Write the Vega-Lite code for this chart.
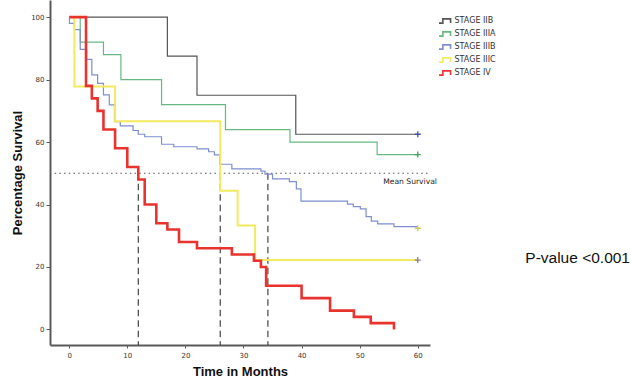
{
  "$schema": "https://vega.github.io/schema/vega-lite/v6.json",
  "width": 380,
  "height": 345,
  "autosize": {"type": "none"},
  "padding": {"left": 50, "top": 0, "right": 201, "bottom": 34},
  "background": "white",
  "config": {"view": {"stroke": null}},
  "datasets": {
    "km": [
      {"series": "STAGE IIB", "t": 0, "s": 100},
      {"series": "STAGE IIB", "t": 16.9, "s": 87.5},
      {"series": "STAGE IIB", "t": 22.0, "s": 75},
      {"series": "STAGE IIB", "t": 39.0, "s": 62.5},
      {"series": "STAGE IIB", "t": 60.0, "s": 62.5},
      {"series": "STAGE IIIA", "t": 0, "s": 100},
      {"series": "STAGE IIIA", "t": 1.9, "s": 92},
      {"series": "STAGE IIIA", "t": 5.9, "s": 88},
      {"series": "STAGE IIIA", "t": 8.9, "s": 80},
      {"series": "STAGE IIIA", "t": 15.9, "s": 72},
      {"series": "STAGE IIIA", "t": 26.9, "s": 64},
      {"series": "STAGE IIIA", "t": 38.0, "s": 60},
      {"series": "STAGE IIIA", "t": 53.0, "s": 56},
      {"series": "STAGE IIIA", "t": 60.0, "s": 56},
      {"series": "STAGE IIIB", "t": 0, "s": 100},
      {"series": "STAGE IIIB", "t": 0.05, "s": 98},
      {"series": "STAGE IIIB", "t": 0.9, "s": 96},
      {"series": "STAGE IIIB", "t": 1.9, "s": 89.7},
      {"series": "STAGE IIIB", "t": 3.0, "s": 86.5},
      {"series": "STAGE IIIB", "t": 3.9, "s": 81.5},
      {"series": "STAGE IIIB", "t": 4.9, "s": 78.8},
      {"series": "STAGE IIIB", "t": 5.9, "s": 75.1},
      {"series": "STAGE IIIB", "t": 6.9, "s": 71.9},
      {"series": "STAGE IIIB", "t": 7.8, "s": 66.5},
      {"series": "STAGE IIIB", "t": 8.8, "s": 65.2},
      {"series": "STAGE IIIB", "t": 11.0, "s": 63.7},
      {"series": "STAGE IIIB", "t": 11.9, "s": 62.5},
      {"series": "STAGE IIIB", "t": 13.0, "s": 61.7},
      {"series": "STAGE IIIB", "t": 15.9, "s": 59.3},
      {"series": "STAGE IIIB", "t": 18.0, "s": 58.5},
      {"series": "STAGE IIIB", "t": 22.0, "s": 57.8},
      {"series": "STAGE IIIB", "t": 24.0, "s": 56.9},
      {"series": "STAGE IIIB", "t": 25.0, "s": 55.9},
      {"series": "STAGE IIIB", "t": 25.9, "s": 52.9},
      {"series": "STAGE IIIB", "t": 28.0, "s": 51.4},
      {"series": "STAGE IIIB", "t": 33.0, "s": 50.7},
      {"series": "STAGE IIIB", "t": 33.7, "s": 49.7},
      {"series": "STAGE IIIB", "t": 35.0, "s": 48.2},
      {"series": "STAGE IIIB", "t": 37.9, "s": 47.3},
      {"series": "STAGE IIIB", "t": 39.1, "s": 45.0},
      {"series": "STAGE IIIB", "t": 39.9, "s": 41.1},
      {"series": "STAGE IIIB", "t": 47.9, "s": 40.1},
      {"series": "STAGE IIIB", "t": 48.9, "s": 39.3},
      {"series": "STAGE IIIB", "t": 50.1, "s": 38.6},
      {"series": "STAGE IIIB", "t": 51.1, "s": 36.1},
      {"series": "STAGE IIIB", "t": 52.0, "s": 34.7},
      {"series": "STAGE IIIB", "t": 53.1, "s": 33.8},
      {"series": "STAGE IIIB", "t": 55.9, "s": 32.9},
      {"series": "STAGE IIIB", "t": 60.0, "s": 32.9},
      {"series": "STAGE IIIC", "t": 0, "s": 100},
      {"series": "STAGE IIIC", "t": 0.9, "s": 77.8},
      {"series": "STAGE IIIC", "t": 7.9, "s": 66.7},
      {"series": "STAGE IIIC", "t": 26.0, "s": 44.4},
      {"series": "STAGE IIIC", "t": 29.0, "s": 33.3},
      {"series": "STAGE IIIC", "t": 32.0, "s": 22.2},
      {"series": "STAGE IIIC", "t": 60.0, "s": 22.2},
      {"series": "STAGE IV", "t": 0, "s": 100},
      {"series": "STAGE IV", "t": 2.9, "s": 78},
      {"series": "STAGE IV", "t": 3.9, "s": 74},
      {"series": "STAGE IV", "t": 4.9, "s": 70},
      {"series": "STAGE IV", "t": 5.9, "s": 64},
      {"series": "STAGE IV", "t": 7.9, "s": 58},
      {"series": "STAGE IV", "t": 10.0, "s": 52},
      {"series": "STAGE IV", "t": 11.9, "s": 48},
      {"series": "STAGE IV", "t": 13.0, "s": 40},
      {"series": "STAGE IV", "t": 15.0, "s": 34},
      {"series": "STAGE IV", "t": 16.9, "s": 32},
      {"series": "STAGE IV", "t": 18.9, "s": 28},
      {"series": "STAGE IV", "t": 22.0, "s": 26},
      {"series": "STAGE IV", "t": 28.0, "s": 24},
      {"series": "STAGE IV", "t": 31.8, "s": 22},
      {"series": "STAGE IV", "t": 33.0, "s": 20},
      {"series": "STAGE IV", "t": 33.9, "s": 14},
      {"series": "STAGE IV", "t": 40.0, "s": 10},
      {"series": "STAGE IV", "t": 44.9, "s": 6},
      {"series": "STAGE IV", "t": 49.0, "s": 4},
      {"series": "STAGE IV", "t": 51.9, "s": 2},
      {"series": "STAGE IV", "t": 55.9, "s": 0}
    ]
  },
  "encoding": {
    "x": {
      "field": "t", "type": "quantitative",
      "scale": {"domain": [-3.3, 62.1], "nice": false, "zero": false},
      "axis": {
        "title": "Time in Months", "values": [0, 10, 20, 30, 40, 50, 60], "grid": false,
        "domainColor": "#5a5a5a", "domainWidth": 2, "tickColor": "#5a5a5a", "tickSize": 3, "tickWidth": 1,
        "labelFont": "DejaVu Sans", "labelFontSize": 7, "labelColor": "#333333", "labelPadding": 3,
        "titleFont": "Liberation Sans", "titleFontSize": 13, "titleFontWeight": "bold", "titleColor": "#111111", "titlePadding": 7
      }
    },
    "y": {
      "field": "s", "type": "quantitative",
      "scale": {"domain": [-5, 105.5], "nice": false, "zero": false},
      "axis": {
        "title": "Percentage Survival", "values": [0, 20, 40, 60, 80, 100], "grid": false,
        "domainColor": "#5a5a5a", "domainWidth": 2, "tickColor": "#5a5a5a", "tickSize": 4, "tickWidth": 1,
        "labelFont": "DejaVu Sans", "labelFontSize": 7, "labelColor": "#333333", "labelPadding": 2,
        "titleFont": "Liberation Sans", "titleFontSize": 13, "titleFontWeight": "bold", "titleColor": "#111111", "titlePadding": 6
      }
    }
  },
  "layer": [
    {
      "data": {"values": [{"t": -2.5, "t2": 62, "s": 50}]},
      "mark": {"type": "rule", "color": "#555555", "strokeWidth": 1.1, "strokeDash": [1.5, 3.2]},
      "encoding": {
        "x2": {"field": "t2"}
      }
    },
    {
      "data": {"values": [{"t": 11.9, "s": 50, "s2": -5}, {"t": 26.0, "s": 50, "s2": -5}, {"t": 34.2, "s": 50, "s2": -5}]},
      "mark": {"type": "rule", "color": "#444444", "strokeWidth": 1.2, "strokeDash": [6.5, 4]},
      "encoding": {
        "y2": {"field": "s2"}
      }
    },
    {
      "data": {"name": "km"},
      "transform": [{"filter": {"field": "series", "oneOf": ["STAGE IIB", "STAGE IIIA", "STAGE IIIB"]}}],
      "mark": {"type": "line", "interpolate": "step-after", "strokeWidth": 1.2},
      "encoding": {
        "color": {
          "field": "series", "type": "nominal",
          "scale": {
            "domain": ["STAGE IIB", "STAGE IIIA", "STAGE IIIB", "STAGE IIIC", "STAGE IV"],
            "range": ["#555555", "#66b882", "#7f8ecd", "#f3ea5d", "#e8332f"]
          },
          "legend": {
            "title": null, "orient": "none", "legendX": 391.5, "legendY": 16.5, "padding": 0,
            "symbolType": "M -2 0.6 H -0.9 V -0.6 H 1.3 V 0.6", "symbolSize": 49, "symbolStrokeWidth": 1.6,
            "symbolFillColor": "transparent",
            "labelFont": "DejaVu Sans", "labelFontSize": 8, "labelColor": "#333333", "labelOffset": 4,
            "rowPadding": 2
          }
        }
      }
    },
    {
      "data": {"name": "km"},
      "transform": [{"filter": {"field": "series", "equal": "STAGE IIIC"}}],
      "mark": {"type": "line", "interpolate": "step-after", "strokeWidth": 2},
      "encoding": {
        "color": {"field": "series", "type": "nominal"}
      }
    },
    {
      "data": {"name": "km"},
      "transform": [{"filter": {"field": "series", "equal": "STAGE IV"}}],
      "mark": {"type": "line", "interpolate": "step-after", "strokeWidth": 2.6},
      "encoding": {
        "color": {"field": "series", "type": "nominal"}
      }
    },
    {
      "data": {"values": [
        {"cseries": "IIB", "t": 60, "s": 62.5},
        {"cseries": "IIIA", "t": 60, "s": 56},
        {"cseries": "IIIB", "t": 60, "s": 32.4},
        {"cseries": "IIIC", "t": 60, "s": 22.2}
      ]},
      "mark": {"type": "point", "shape": "M -1 0 H 1 M 0 -1 V 1", "filled": false, "size": 36, "strokeWidth": 1.3, "opacity": 1},
      "encoding": {
        "stroke": {
          "field": "cseries", "type": "nominal",
          "scale": {"domain": ["IIB", "IIIA", "IIIB", "IIIC"], "range": ["#3f56a6", "#3fa35c", "#cfc85a", "#8b7f9a"]},
          "legend": null
        }
      }
    },
    {
      "data": {"values": [{"t": 63.3, "s": 47.2, "label": "Mean Survival"}]},
      "mark": {"type": "text", "align": "right", "baseline": "middle", "font": "DejaVu Sans", "fontSize": 7.6, "color": "#222222"},
      "encoding": {
        "text": {"field": "label"}
      }
    },
    {
      "data": {"values": [{"t": 78.5, "s": 22.9, "label": "P-value <0.001"}]},
      "mark": {"type": "text", "align": "left", "baseline": "middle", "font": "Liberation Sans", "fontSize": 15.5, "color": "#111111"},
      "encoding": {
        "text": {"field": "label"}
      }
    }
  ]
}
